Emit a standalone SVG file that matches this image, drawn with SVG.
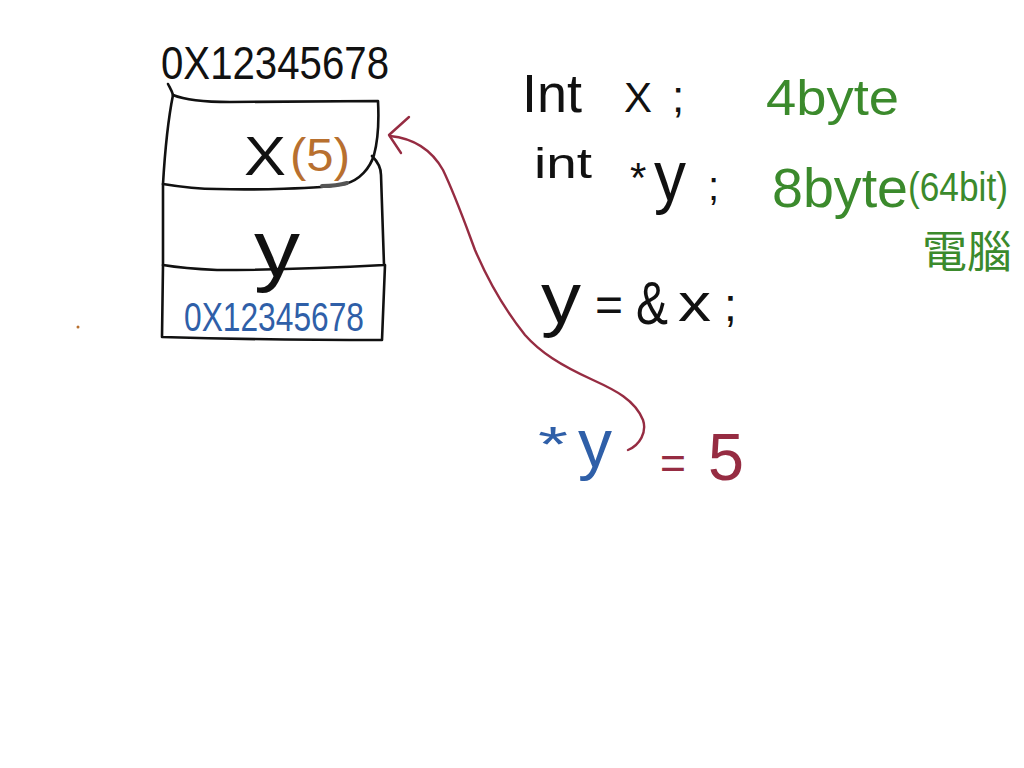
<svg xmlns="http://www.w3.org/2000/svg" width="1024" height="768" viewBox="0 0 1024 768">
<style>
.ln{fill:none;stroke:#111;stroke-width:2.6;stroke-linecap:round;stroke-linejoin:round}
.red{fill:none;stroke:#962c42;stroke-width:2.4;stroke-linecap:round;stroke-linejoin:round}
text{font-family:"Liberation Sans","Noto Sans CJK TC",sans-serif;}
.k{fill:#111}
.g{fill:#3b8a2c}
.b{fill:#2f5fa8}
.r{fill:#962c42}
.o{fill:#b8702f}
</style>
<rect width="1024" height="768" fill="#fff"/>

<g id="address-label">
<text class="k" x="161" y="79" font-size="46" textLength="228" lengthAdjust="spacingAndGlyphs">0X12345678</text>
<path class="ln" d="M168,84 C170,88 172,91 173,95"/>
</g>

<g id="memory-box">
<path class="ln" d="M163,184 C175,186 195,189 217,189 C250,190 320,189 345,184 C360,180 370,168 374,155 C378,140 379,120 378,101 L230,102 C205,102 185,100 173,95"/>
<path class="ln" d="M372,156 C377,161 381,167 381,175 L384,265 C330,268 260,270 217,270 C195,269 175,267 163,265"/>
<path class="ln" d="M173,95 C168,120 165,150 163,184 L163,265 L162,337 C230,339 320,340 382,340 L385,265"/>
<path d="M322,186 C330,186 340,185 347,183" fill="none" stroke="#555" stroke-width="4" stroke-linecap="round"/>
</g>

<g id="cell-x">
<text class="k" x="244" y="175" font-size="56" textLength="42" lengthAdjust="spacingAndGlyphs">X</text>
<text class="o" x="290" y="171" font-size="46" textLength="60" lengthAdjust="spacingAndGlyphs">(5)</text>
</g>

<g id="cell-y">
<text class="k" x="254" y="276" font-size="80" textLength="46" lengthAdjust="spacingAndGlyphs">y</text>
</g>

<g id="cell-address">
<text class="b" x="184" y="331" font-size="40" textLength="180" lengthAdjust="spacingAndGlyphs">0X12345678</text>
</g>

<g id="decl-x">
<text class="k" font-size="54" y="112"><tspan x="522" textLength="60" lengthAdjust="spacingAndGlyphs">Int</tspan><tspan x="624" font-size="42" textLength="28" lengthAdjust="spacingAndGlyphs">X</tspan><tspan x="672" font-size="44">;</tspan></text>
</g>

<g id="decl-y">
<text class="k" x="534" y="178" font-size="42" textLength="58" lengthAdjust="spacingAndGlyphs">int</text>
<text class="k" x="630" y="192" font-size="42">*</text>
<text class="k" x="654" y="200" font-size="70" textLength="32" lengthAdjust="spacingAndGlyphs">y</text>
<text class="k" x="708" y="200" font-size="40">;</text>
</g>

<g id="size-x">
<text class="g" x="766" y="115" font-size="50" textLength="133" lengthAdjust="spacingAndGlyphs">4byte</text>
</g>

<g id="size-y">
<text class="g" x="772" y="207" font-size="56" textLength="136" lengthAdjust="spacingAndGlyphs">8byte</text>
<text class="g" x="908" y="201" font-size="40" textLength="100" lengthAdjust="spacingAndGlyphs">(64bit)</text>
<text class="g" x="922" y="268" font-size="44" textLength="90" lengthAdjust="spacingAndGlyphs">電腦</text>
</g>

<g id="assign">
<text class="k" x="541" y="323" font-size="72" textLength="40" lengthAdjust="spacingAndGlyphs">y</text>
<text class="k" x="595" y="321" font-size="48">=</text>
<text class="k" x="636" y="324" font-size="62" textLength="32" lengthAdjust="spacingAndGlyphs">&amp;</text>
<text class="k" x="678" y="321" font-size="54" textLength="33" lengthAdjust="spacingAndGlyphs">x</text>
<text class="k" x="724" y="321" font-size="46">;</text>
</g>

<g id="deref">
<text class="b" x="538" y="462" font-size="50" textLength="30" lengthAdjust="spacingAndGlyphs">*</text>
<text class="b" x="578" y="467" font-size="68" textLength="34" lengthAdjust="spacingAndGlyphs">y</text>
<text class="r" x="660" y="479" font-size="46" textLength="26" lengthAdjust="spacingAndGlyphs">=</text>
<text class="r" x="708" y="480" font-size="66" textLength="36" lengthAdjust="spacingAndGlyphs">5</text>
</g>

<g id="connectors">
<path class="red" d="M390,136 C410,138 430,147 443,170 C455,195 462,215 475,250 C490,285 505,310 525,335 C540,352 560,365 593,380 C615,390 635,400 643,420 C647,432 640,445 628,450"/>
<path class="red" d="M409,117 L389,135 L401,153"/>
</g>

<circle cx="78" cy="327" r="1.5" fill="#b8702f"/>
</svg>
